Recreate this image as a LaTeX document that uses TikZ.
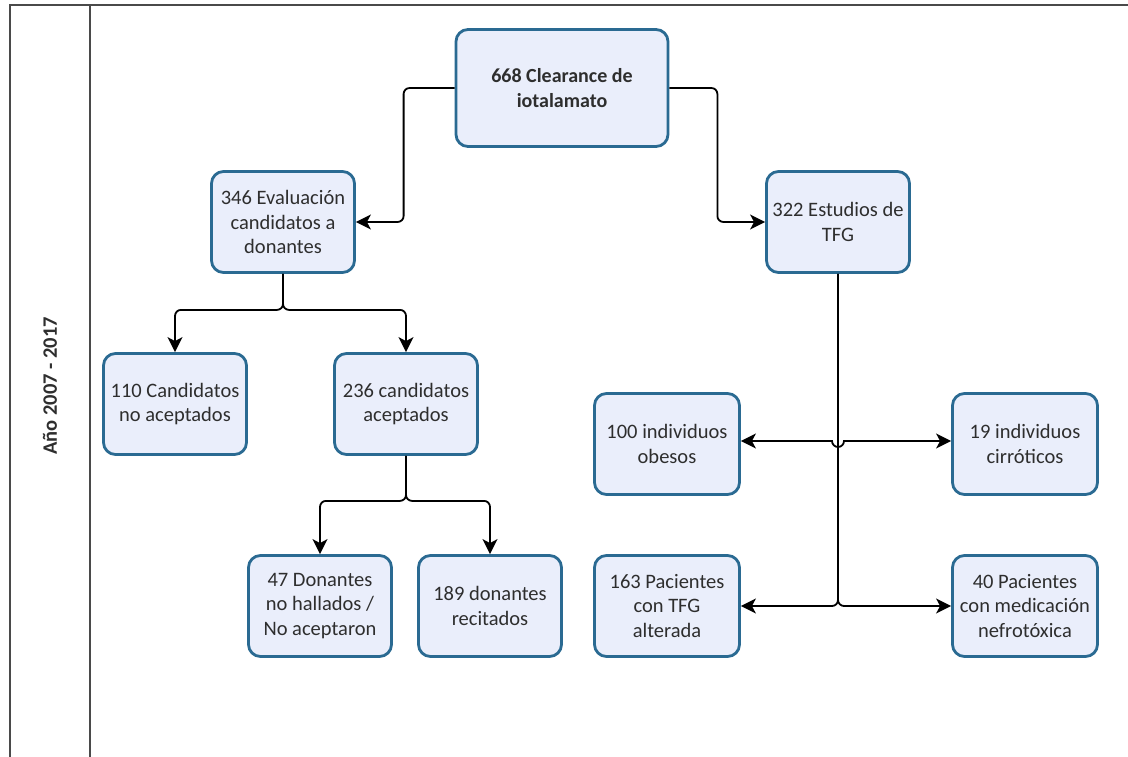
\documentclass[tikz,border=0pt]{standalone}
\usepackage{fontspec}
\setmainfont{Carlito}
\usetikzlibrary{arrows.meta}
\definecolor{boxfill}{HTML}{EAEEFB}
\definecolor{boxline}{HTML}{2A6A92}
\definecolor{txt}{HTML}{2E2E2E}
\definecolor{frame}{HTML}{4A4A4A}
\tikzset{
  fbox/.style={draw=boxline, line width=2.8pt, fill=boxfill, rounded corners=12pt,
    minimum width=143pt, minimum height=101pt, align=center, text=txt,
    font=\fontsize{20.5}{24.5}\selectfont, inner sep=1pt},
  conn/.style={draw=black, line width=1.8pt, rounded corners=6pt,
    -{Stealth[length=15pt,width=15pt,inset=4pt]}},
  conn2/.style={draw=black, line width=1.8pt, rounded corners=6pt,
    {Stealth[length=15pt,width=15pt,inset=4pt]}-{Stealth[length=15pt,width=15pt,inset=4pt]}},
  framel/.style={draw=frame, line width=2pt},
}
\begin{document}
\begin{tikzpicture}[x=1pt,y=-1pt]
\useasboundingbox (0,0) rectangle (1128,757);
% frame
\draw[framel] (10,757) -- (10,5) -- (1128,5);
\draw[framel] (90,5) -- (90,757);
\node[rotate=90, font=\bfseries\fontsize{20.5}{24}\selectfont, text=txt] (yr) at (50,386) {Año 2007 - 2017};
% nodes
\node[fbox, minimum width=212pt, minimum height=117pt, font=\bfseries\fontsize{20}{24.5}\selectfont] (n668) at (562,88) {668 Clearance de\\iotalamato};
\node[fbox] (n346) at (283,222) {346 Evaluación\\candidatos a\\donantes};
\node[fbox] (n322) at (838,222) {322 Estudios de\\TFG};
\node[fbox] (n110) at (175,404) {110 Candidatos\\no aceptados};
\node[fbox] (n236) at (406,404) {236 candidatos\\aceptados};
\node[fbox] (n47) at (320,606) {47 Donantes\\no hallados /\\No aceptaron};
\node[fbox] (n189) at (490,606) {189 donantes\\recitados};
\node[fbox, minimum width=145pt] (n100) at (667,444) {100 individuos\\obesos};
\node[fbox, minimum width=145pt] (n19) at (1025,444) {19 individuos\\cirróticos};
\node[fbox, minimum width=145pt] (n163) at (667,606) {163 Pacientes\\con TFG\\alterada};
\node[fbox, minimum width=145pt] (n40) at (1025,606) {40 Pacientes\\con medicación\\nefrotóxica};
% connectors
\draw[conn] (n668.west) -- ++(-51,0) |- (n346.east);
\draw[conn] (n668.east) -- ++(48,0) |- (n322.west);
\draw[conn] (n346.south) -- ++(0,36) -| (n110.north);
\draw[conn] (n346.south) -- ++(0,36) -| (n236.north);
\draw[conn] (n236.south) -- ++(0,45) -| (n47.north);
\draw[conn] (n236.south) -- ++(0,45) -| (n189.north);
\coordinate (hopL) at (832,441);
\coordinate (hopR) at (844,441);
\draw[conn] (n322.south) -- (838,606) -- (n163.east);
\draw[conn] (n322.south) -- (838,606) -- (n40.west);
\draw[conn2, rounded corners=0pt] (n100.east |- hopL) -- (hopL) arc[start angle=180, end angle=0, radius=6] -- (n19.west |- hopR);
\end{tikzpicture}
\end{document}
